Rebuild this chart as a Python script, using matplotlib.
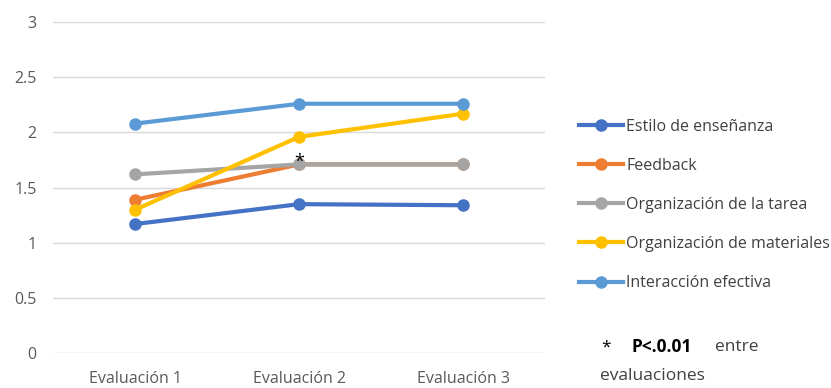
import matplotlib.pyplot as plt

plt.rcParams['font.family'] = ['Open Sans', 'DejaVu Sans']

evaluaciones = ['Evaluación 1', 'Evaluación 2', 'Evaluación 3']
estilo = [1.17, 1.35, 1.34]
feedback = [1.39, 1.71, 1.71]
org_tarea = [1.62, 1.71, 1.71]
org_materiales = [1.30, 1.96, 2.17]
interaccion = [2.08, 2.26, 2.26]

series = [
    ('Estilo de enseñanza', estilo, '#4472C4'),
    ('Feedback', feedback, '#ED7D31'),
    ('Organización de la tarea', org_tarea, '#A5A5A5'),
    ('Organización de materiales', org_materiales, '#FFC000'),
    ('Interacción efectiva', interaccion, '#5B9BD5'),
]

fig = plt.figure(figsize=(8.31, 3.88), dpi=100)
ax = fig.add_axes([0.064, 0.09, 0.592, 0.853])

x = range(len(evaluaciones))
for name, vals, col in series:
    ax.plot(x, vals, color=col, linewidth=3, marker='o', markersize=8, label=name)

# asterisco sobre la Evaluación 2
ax.text(1, 1.65, '*', ha='center', va='bottom', fontsize=13, color='black')

ax.set_xlim(-0.5, 2.5)
ax.set_ylim(0, 3)
ax.set_yticks([0, 0.5, 1, 1.5, 2, 2.5, 3])
ax.set_yticklabels(['0', '0.5', '1', '1.5', '2', '2.5', '3'])
ax.set_xticks(list(x))
ax.set_xticklabels(evaluaciones)
ax.tick_params(length=0, colors='#595959', labelsize=11.5)
ax.tick_params(axis='y', pad=12)
ax.tick_params(axis='x', pad=13)
ax.grid(axis='y', color='#D9D9D9', linewidth=1)
ax.set_axisbelow(True)
for s in ax.spines.values():
    s.set_visible(False)

ax.legend(loc='upper left', bbox_to_anchor=(1.04, 0.752), frameon=False,
          fontsize=11.5, labelcolor='#404040', handlelength=2.75, handletextpad=0.2,
          labelspacing=1.45)

fig.text(0.724, 0.105, '*', fontsize=12.5, color='black', va='center')
fig.text(0.760, 0.105, 'P<.0.01', fontsize=12.5, fontweight='bold', color='black', va='center')
fig.text(0.860, 0.105, 'entre', fontsize=12.5, color='#404040', va='center')
fig.text(0.722, 0.03, 'evaluaciones', fontsize=12.5, color='#404040', va='center')

fig.savefig('out.png', dpi=100)
